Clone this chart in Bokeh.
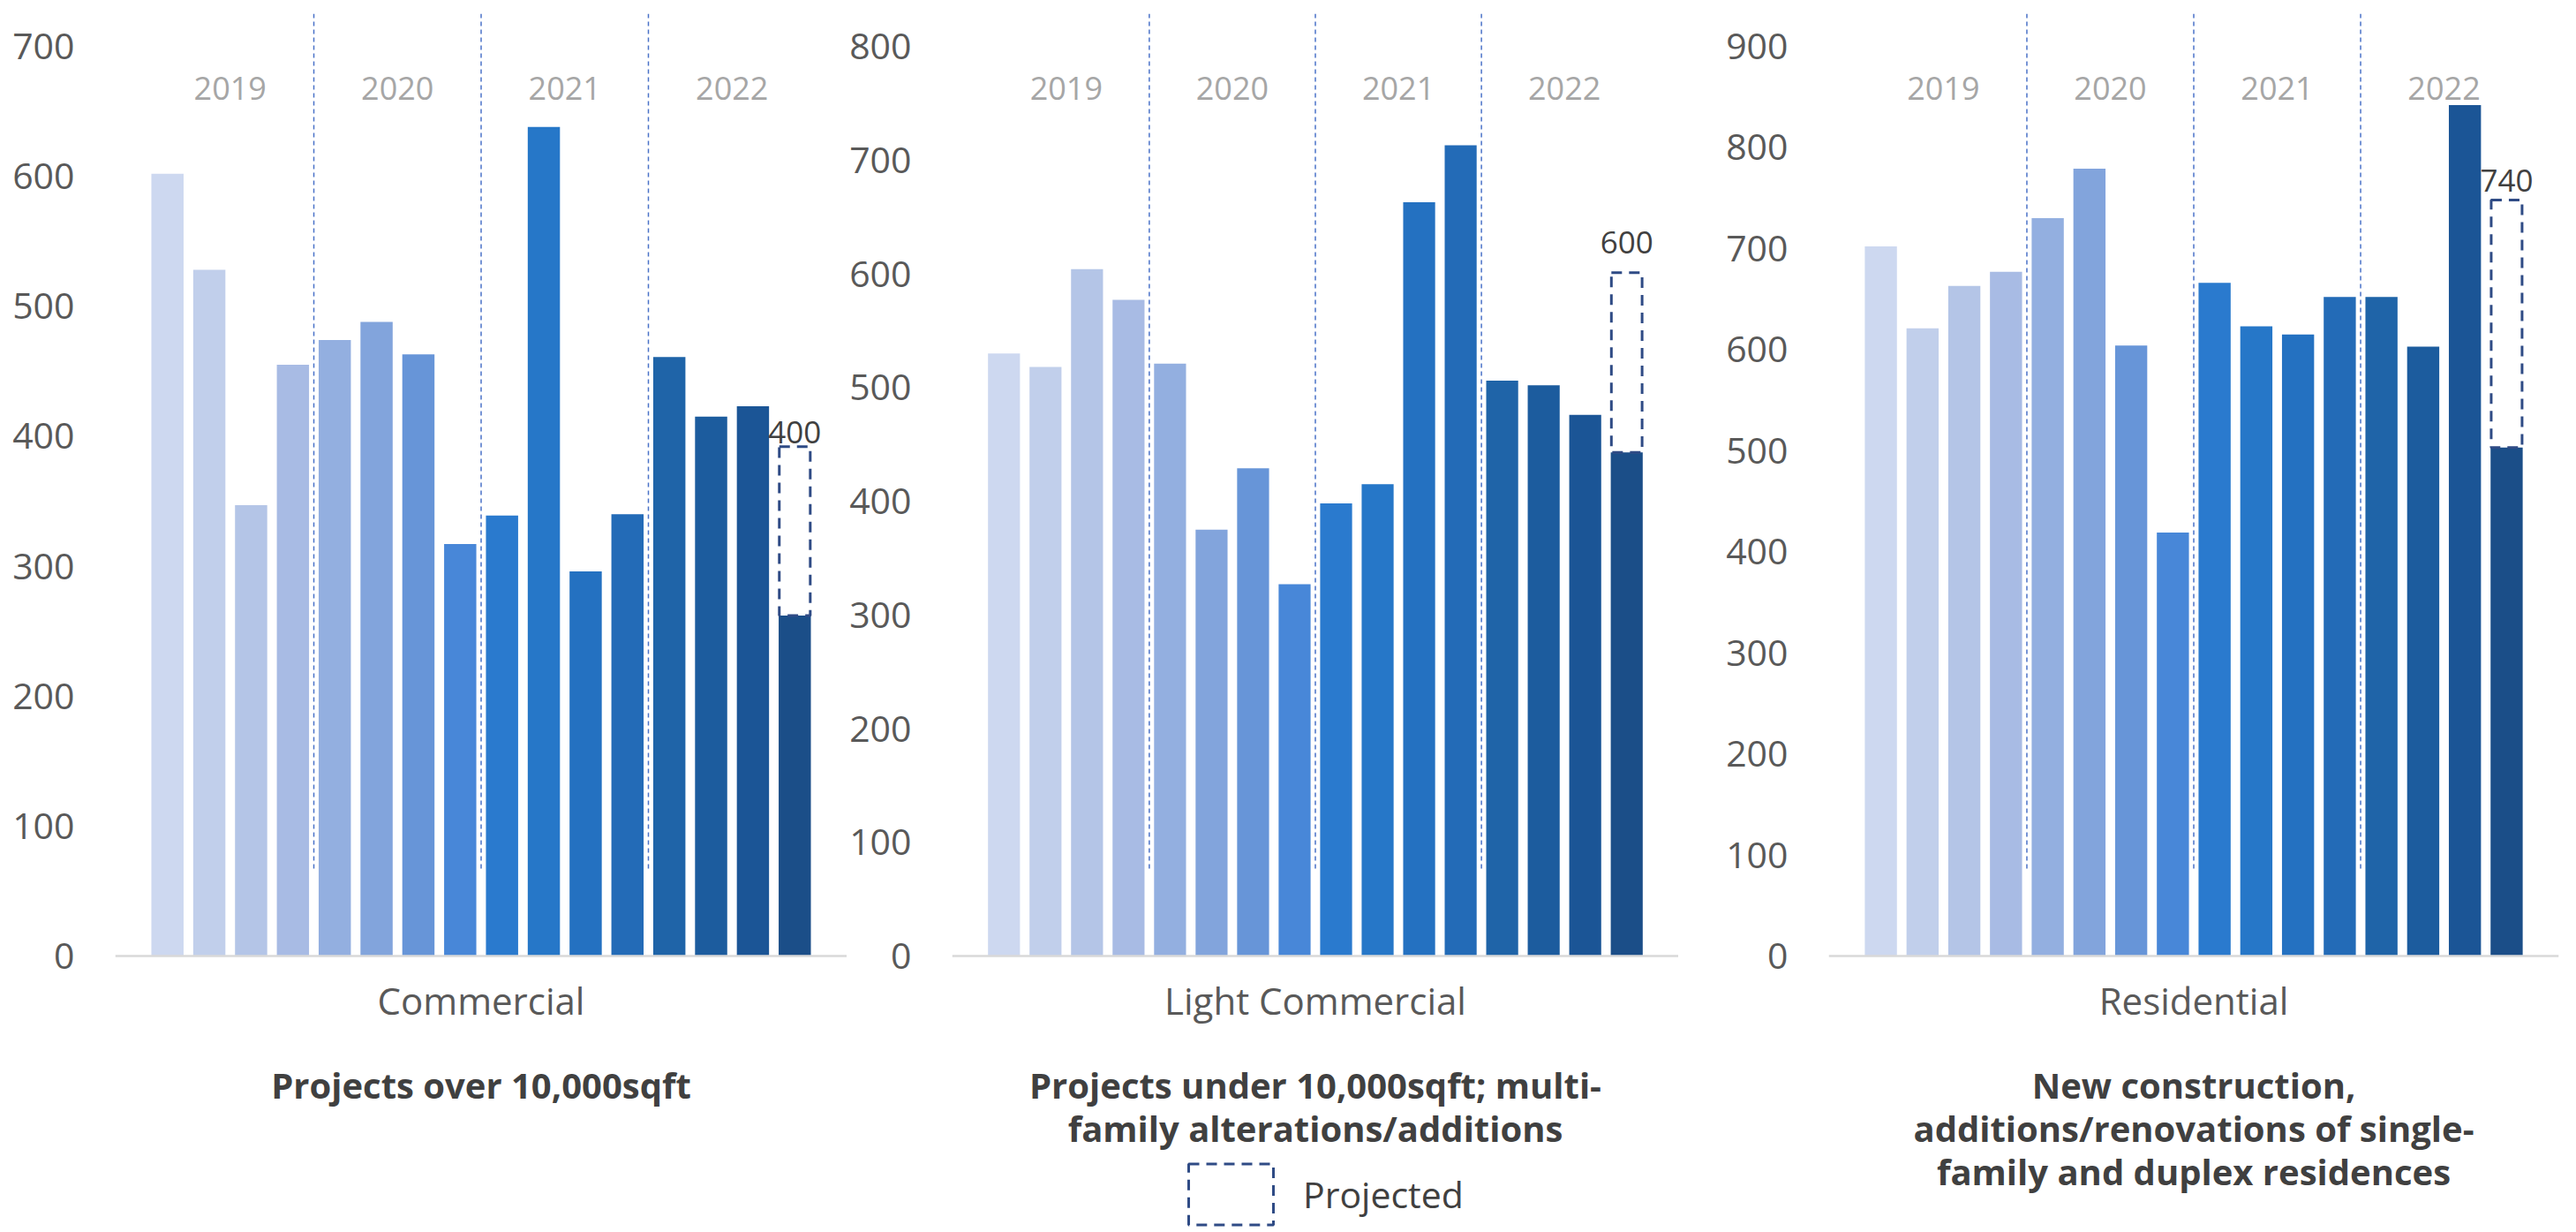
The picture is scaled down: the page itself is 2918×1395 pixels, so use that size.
from bokeh.plotting import figure
from bokeh.models import Range1d, FixedTicker, Legend, LegendItem, Span
from bokeh.layouts import row
from bokeh.embed import file_html
from bokeh.resources import INLINE
from bokeh.core.properties import value

# ---------------- data ----------------
years = ["2019", "2020", "2021", "2022"]
quarters = list(range(1, 17))
year_centers = [2.5, 6.5, 10.5, 14.5]
year_breaks = [4.5, 8.5, 12.5]

commercial = [602, 528, 347, 455, 474, 488, 463, 317, 339, 638, 296, 340, 461, 415, 423, 262]
light_commercial = [530, 518, 604, 577, 521, 375, 429, 327, 398, 415, 663, 713, 506, 502, 476, 443]
residential = [702, 621, 663, 677, 730, 779, 604, 419, 666, 623, 615, 652, 652, 603, 842, 503]

projected_top = [392, 601, 748]
projected_labels = ["400", "600", "740"]

categories = ["Commercial", "Light Commercial", "Residential"]
subtitles = [
    ["Projects over 10,000sqft"],
    ["Projects under 10,000sqft; multi-", "family alterations/additions"],
    ["New construction,", "additions/renovations of single-", "family and duplex residences"],
]
y_max_ticks = [700, 800, 900]
legend_label = "Projected"

bar_colors = ["#CDD8F0", "#C1CFEB", "#B4C5E7", "#A8BBE4", "#93AFE0", "#82A4DC",
              "#6795D8", "#4887D8", "#2A7ACE", "#2677C8", "#2471C1", "#236BB7",
              "#1F64A8", "#1C5C9E", "#1B5596", "#1B4E88"]

# ---------------- style / layout ----------------
FONT = "Open Sans"
FIG_H = 1395
TOP_PX = 15        # top of plotting frame
ZERO_PX = 1082     # pixel row of value 0
TOPTICK_PX = 52    # pixel row of the highest tick
SEP_BOTTOM_PX = 983
fig_widths = [959, 942, 1017]
border_left = [130, 113, 170]
border_right = [0, 0, 20]
label_lift = [16, 34, 22]
PROJ_COLOR = "#2F4B85"
TEXT_DARK = "#404040"
TEXT_MID = "#595959"

series = [commercial, light_commercial, residential]
figs = []
for i in range(3):
    vals = series[i]
    ymax = y_max_ticks[i]
    ppu = (ZERO_PX - TOPTICK_PX) / ymax
    y_start = -(FIG_H - ZERO_PX) / ppu
    y_end = (ZERO_PX - TOP_PX) / ppu
    p = figure(width=fig_widths[i], height=FIG_H, output_backend="svg",
               toolbar_location=None, x_range=Range1d(-0.25, 17.25),
               y_range=Range1d(y_start, y_end),
               min_border_left=border_left[i], min_border_right=border_right[i],
               min_border_top=TOP_PX, min_border_bottom=0)
    p.outline_line_color = None
    p.xgrid.visible = False
    p.ygrid.visible = False
    p.xaxis.visible = False
    p.background_fill_color = "white"
    p.border_fill_color = "white"

    # baseline (category axis line)
    p.add_layout(Span(location=0, dimension="width", line_color="#D9D9D9", line_width=2.5))

    # bars
    p.vbar(x=quarters, top=vals, width=0.77, fill_color=bar_colors, line_color=None)

    # projected box
    proj = p.vbar(x=[quarters[-1]], bottom=[vals[-1]], top=[projected_top[i]], width=0.74,
                  fill_color=None, line_color=PROJ_COLOR, line_width=3, line_dash="12 8")
    p.text(x=[quarters[-1]], y=[projected_top[i]], text=[projected_labels[i]],
           y_offset=-label_lift[i], text_align="center", text_baseline="alphabetic",
           text_font=value(FONT), text_font_size="35px", text_color=TEXT_DARK)

    # year separators and labels
    sep_bottom = (ZERO_PX - SEP_BOTTOM_PX) / ppu
    p.segment(x0=year_breaks, x1=year_breaks, y0=[sep_bottom] * 3, y1=[y_end] * 3,
              line_color="#4A72C8", line_width=1.5, line_dash="5 4")
    p.text(x=year_centers, y=[ymax] * 4, text=years, y_offset=47, text_align="center",
           text_baseline="middle", text_font=value(FONT), text_font_size="36px",
           text_color="#A6A6A6")

    # category label under the baseline
    p.text(x=[8.5], y=[0], text=[categories[i]], y_offset=50, text_align="center",
           text_baseline="middle", text_font=value(FONT), text_font_size="42px",
           text_color=TEXT_MID)

    # bold subtitle lines
    lines = subtitles[i]
    p.text(x=[8.5] * len(lines), y=[0] * len(lines), text=lines,
           y_offset=[146 + 49 * k for k in range(len(lines))],
           text_align="center", text_baseline="middle", text_font=value(FONT),
           text_font_size="40px", text_font_style="bold", text_color=TEXT_DARK)

    # y axis
    ya = p.yaxis[0]
    ya.ticker = FixedTicker(ticks=list(range(0, ymax + 1, 100)))
    ya.axis_line_color = None
    ya.major_tick_line_color = None
    ya.minor_tick_line_color = None
    ya.major_label_standoff = 40
    ya.major_label_text_font = FONT
    ya.major_label_text_font_size = "41px"
    ya.major_label_text_color = TEXT_MID

    if i == 1:
        leg = Legend(items=[LegendItem(label=legend_label, renderers=[proj])],
                     location=(256, 0), orientation="horizontal",
                     glyph_width=120, glyph_height=86, label_standoff=22,
                     label_text_font=FONT, label_text_font_size="41px",
                     label_text_color=TEXT_DARK, border_line_color=None,
                     background_fill_alpha=0, padding=0, margin=0)
        p.add_layout(leg, "center")
    figs.append(p)

layout = row(*figs, spacing=0)
open("out.html", "w").write(file_html(layout, INLINE))
